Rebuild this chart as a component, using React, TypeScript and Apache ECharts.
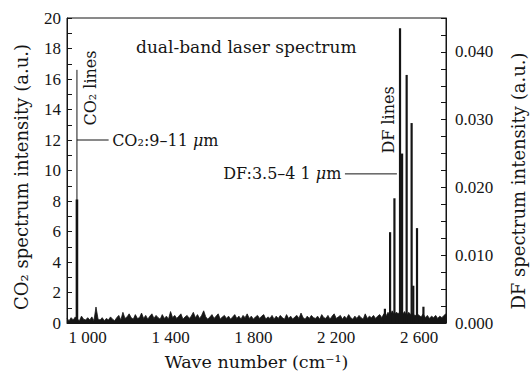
import React, { useEffect, useRef } from "react";
import * as echarts from "echarts";

// x axis (wave number, cm^-1)
const xMin = 900;
const xMax = 2730;
const xTickLabels = [1000, 1400, 1800, 2200, 2600];

// left axis: CO2 spectrum intensity
const leftMax = 20;
// right axis: DF spectrum intensity
const rightMax = 0.045;

// CO2 laser lines (wave number, intensity)
const co2Bars: number[][] = [[948, 8.1]];
const co2Envelope: number[][] = [[948, 0], [948, 16.6]];
const co2Pointer: number[][] = [[948, 12], [1101, 12]];

// DF laser lines (wave number, intensity)
const dfBars: number[][] = [
  [2435, 0.0021],
  [2460, 0.0134],
  [2481, 0.0184],
  [2508, 0.0435],
  [2518, 0.025],
  [2540, 0.0366],
  [2564, 0.0295],
  [2572, 0.0055],
  [2590, 0.014],
  [2621, 0.0024],
];
const dfPointer: number[][] = [[2242, 0.022], [2493, 0.022]];

// background noise on the CO2 scale, sampled every 10 cm^-1 from 900
const noiseStart = 900;
const noiseStep = 10;
const noise = [
  0.3, 0.15, 0.35, 0.2, 0.4, 0.25, 0.15, 0.45, 0.25, 0.2, 0.35, 0.2, 0.4, 0.15, 1.05, 0.25, 0.2, 0.35, 0.15, 0.3,
  0.2, 0.4, 0.25, 0.15, 0.35, 0.5, 0.2, 0.7, 0.3, 0.4, 0.6, 0.35, 0.25, 0.55, 0.3, 0.35, 0.65, 0.3, 0.5, 0.25,
  0.45, 0.6, 0.3, 0.5, 0.35, 0.25, 0.55, 0.3, 0.45, 0.25, 0.75, 0.35, 0.5, 0.3, 0.45, 0.6, 0.25, 0.4, 0.5, 0.3,
  0.45, 0.7, 0.35, 0.55, 0.3, 0.5, 0.8, 0.4, 0.25, 0.4, 0.55, 0.3, 0.45, 0.6, 0.25, 0.4, 0.5, 0.3, 0.45, 0.25,
  0.4, 0.55, 0.3, 0.45, 0.25, 0.5, 0.35, 0.6, 0.3, 0.45, 0.25, 0.4, 0.5, 0.3, 0.45, 0.55, 0.25, 0.4, 0.3, 0.5,
  0.25, 0.45, 0.3, 0.5, 0.35, 0.25, 0.55, 0.3, 0.45, 0.25, 0.4, 0.5, 0.3, 0.65, 0.35, 0.25, 0.45, 0.3, 0.5, 0.35,
  0.3, 0.45, 0.25, 0.55, 0.35, 0.3, 0.5, 0.25, 0.45, 0.6, 0.3, 0.4, 0.5, 0.25, 0.45, 0.3, 0.55, 0.35, 0.25, 0.45,
  0.3, 0.5, 0.35, 0.25, 0.6, 0.3, 0.45, 0.35, 0.5, 0.3, 0.45, 0.55, 0.35, 0.6, 0.45, 0.7, 0.5, 0.8, 0.55, 0.7,
  0.6, 0.8, 0.55, 0.75, 0.5, 0.7, 0.55, 0.65, 0.45, 0.6, 0.5, 0.4, 0.6, 0.35, 0.5, 0.3, 0.45, 0.35, 0.5, 0.3,
  0.45, 0.35, 0.5, 0.6,
];

const INK = "#151515";
const CLEAR = "rgba(0,0,0,0)";
const TICK_FONT = "'Liberation Serif', serif";
const TEXT_FONT = "'DejaVu Serif', serif";

function fmtWave(v: number) {
  const s = String(v);
  return s.length > 3 ? s.slice(0, s.length - 3) + " " + s.slice(-3) : s;
}

function barRenderer(width: number) {
  return (params: any, api: any) => {
    const x = api.value(0);
    const y = api.value(1);
    const p0 = api.coord([x, 0]);
    const p1 = api.coord([x, y]);
    return {
      type: "rect",
      shape: { x: p0[0] - width / 2, y: p1[1], width, height: p0[1] - p1[1] },
      style: { fill: INK },
    };
  };
}

function rotatedText(text: string, x: number, y: number, size: number) {
  return {
    type: "text",
    x,
    y,
    rotation: Math.PI / 2,
    style: {
      text,
      fontFamily: TEXT_FONT,
      fontSize: size,
      fill: INK,
      align: "center",
      verticalAlign: "middle",
    },
  };
}

const muRich = {
  i: { fontFamily: TEXT_FONT, fontSize: 16, fontStyle: "italic", color: INK },
};

export default function App() {
  const ref = useRef<HTMLDivElement>(null);
  useEffect(() => {
    if (!ref.current) return;
    const chart = echarts.init(ref.current, undefined, { renderer: "svg" });
    const noiseData = noise.map((v, i) => [noiseStart + i * noiseStep, v]);
    const option: any = {
      animation: false,
      backgroundColor: "#fff",
      grid: { left: 67, right: 84, top: 18, bottom: 55, show: true, borderColor: INK, borderWidth: 1 },
      xAxis: {
        type: "value",
        min: xMin,
        max: xMax,
        interval: 100,
        name: "Wave number (cm⁻¹)",
        nameLocation: "middle",
        nameGap: 30,
        nameTextStyle: { fontFamily: TEXT_FONT, fontSize: 17.5, color: INK },
        axisLine: { show: true, lineStyle: { color: INK, width: 1 } },
        axisTick: { show: false },
        splitLine: { show: false },
        axisLabel: {
          margin: 6,
          fontFamily: TICK_FONT,
          fontSize: 17,
          color: INK,
          formatter: (v: number) => (xTickLabels.includes(Math.round(v)) ? fmtWave(Math.round(v)) : ""),
        },
      },
      yAxis: [
        {
          type: "value",
          min: 0,
          max: leftMax,
          interval: 1,
          position: "left",
          axisLine: { show: true, lineStyle: { color: INK, width: 1 } },
          axisTick: { show: true, inside: true, length: 5, lineStyle: { color: INK } },
          splitLine: { show: false },
          axisLabel: {
            margin: 6,
            fontFamily: TICK_FONT,
            fontSize: 17,
            color: INK,
            formatter: (v: number) => (Math.round(v) % 2 === 0 ? String(Math.round(v)) : ""),
          },
        },
        {
          type: "value",
          min: 0,
          max: rightMax,
          interval: 0.0025,
          position: "right",
          axisLine: { show: true, lineStyle: { color: INK, width: 1 } },
          axisTick: { show: true, inside: true, length: 5, lineStyle: { color: INK } },
          splitLine: { show: false },
          axisLabel: {
            margin: 9,
            fontFamily: TICK_FONT,
            fontSize: 17,
            color: INK,
            formatter: (v: number) => {
              const k = v * 100;
              return Math.abs(k - Math.round(k)) < 1e-6 && v < 0.0449 ? v.toFixed(3) : "";
            },
          },
        },
      ],
      series: [
        {
          name: "noise",
          type: "line",
          yAxisIndex: 0,
          data: noiseData,
          symbol: "none",
          lineStyle: { color: INK, width: 0.8 },
          areaStyle: { color: INK, opacity: 1 },
          z: 1,
        },
        {
          name: "CO2 envelope",
          type: "line",
          yAxisIndex: 0,
          data: co2Envelope,
          symbol: "none",
          lineStyle: { color: INK, width: 1 },
          z: 3,
        },
        {
          name: "CO2 lines",
          type: "custom",
          yAxisIndex: 0,
          data: co2Bars,
          renderItem: barRenderer(2.6),
          z: 3,
        },
        {
          name: "CO2 pointer",
          type: "line",
          yAxisIndex: 0,
          data: co2Pointer,
          symbol: "circle",
          symbolSize: 1,
          showSymbol: true,
          itemStyle: { color: CLEAR },
          lineStyle: { color: INK, width: 1 },
          label: {
            show: true,
            position: "right",
            distance: 3,
            fontFamily: TEXT_FONT,
            fontSize: 16,
            color: INK,
            rich: muRich,
            formatter: (p: any) => (p.dataIndex === 1 ? "CO₂:9–11 {i|μ}m" : ""),
          },
          z: 3,
        },
        {
          name: "DF lines",
          type: "custom",
          yAxisIndex: 1,
          data: dfBars,
          renderItem: barRenderer(2.2),
          z: 3,
        },
        {
          name: "DF pointer",
          type: "line",
          yAxisIndex: 1,
          data: dfPointer,
          symbol: "circle",
          symbolSize: 1,
          showSymbol: true,
          itemStyle: { color: CLEAR },
          lineStyle: { color: INK, width: 1 },
          label: {
            show: true,
            position: "left",
            distance: 3,
            fontFamily: TEXT_FONT,
            fontSize: 16,
            color: INK,
            rich: muRich,
            formatter: (p: any) => (p.dataIndex === 0 ? "DF:3.5–4 1 {i|μ}m" : ""),
          },
          z: 3,
        },
      ],
      graphic: [
        {
          type: "text",
          x: 136,
          y: 47,
          style: {
            text: "dual-band laser spectrum",
            fontFamily: TEXT_FONT,
            fontSize: 17,
            fill: INK,
            align: "left",
            verticalAlign: "middle",
          },
        },
        rotatedText("CO₂ lines", 90, 88, 16),
        rotatedText("DF lines", 388, 120, 16),
        rotatedText("CO₂ spectrum intensity (a.u.)", 21, 177, 18),
        rotatedText("DF spectrum intensity (a.u.)", 518, 181, 18),
      ],
    };
    chart.setOption(option);
    return () => chart.dispose();
  }, []);
  return (
    <div
      ref={ref}
      style={{ position: "fixed", left: 0, top: 0, width: 530, height: 378 }}
    />
  );
}
